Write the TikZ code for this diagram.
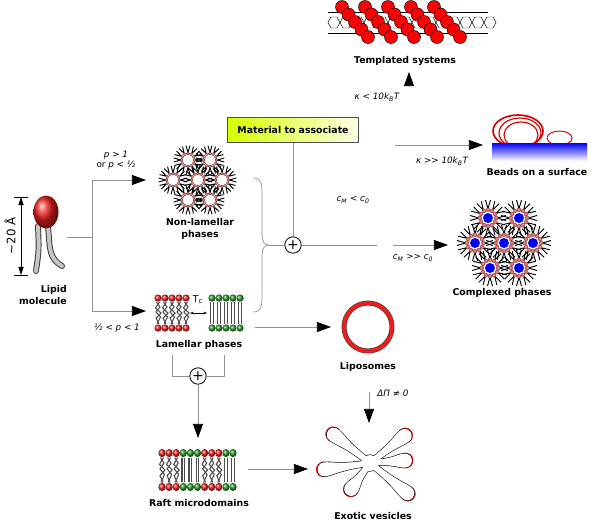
\documentclass[tikz,border=0pt]{standalone}
\usepackage{fontspec}
\setmainfont{DejaVu Sans}[ItalicFont={DejaVu Sans Oblique}, BoldFont={DejaVu Sans Bold}, BoldItalicFont={DejaVu Sans Bold Oblique}]
\usepackage{tikz}
\usetikzlibrary{arrows.meta}
\definecolor{lipred}{RGB}{235,30,30}
\definecolor{lipgreen}{RGB}{40,150,40}

\begin{document}
\begin{tikzpicture}
	[
	x=0.03cm, y=-0.03cm,
	line/.style={draw=gray!85, line width=0.6pt},
	arr/.style={line, -{Triangle[length=12pt,width=8.5pt,color=black]}},
	lbl/.style={font=\fontsize{8}{9.6}\selectfont\bfseries, align=center, inner sep=0pt},
	cond/.style={font=\fontsize{7.5}{9}\selectfont\itshape, align=center, inner sep=0pt},
	plus/.style={circle, draw, line width=0.7pt, minimum size=14pt, inner sep=0pt, font=\fontsize{12}{12}\selectfont},
	matbox/.style={draw=black!70, line width=0.4pt, left color=yellow!85!green, right color=yellow!10, minimum width=3.93cm, minimum height=0.75cm, font=\fontsize{8}{9.6}\selectfont\bfseries},
	head/.style={shading=ball, ball color=#1},
	pics/micelle/.style={code={
		\foreach \a in {0,30,...,330}
			\draw[line width=0.8pt] ({\a-8}:14.5) -- (\a:7.5) -- ({\a+8}:14.5);
		\fill[#1] (0,0) circle (4);
		\foreach \a in {0,30,...,330}
			\filldraw[fill=red!55, draw=black!80, line width=0.25pt] (\a:6.5) circle (1.6);
	}},
	pics/micelle/.default=white,
	pics/ordlip/.style 2 args={code={
		\draw[line width=1.1pt, black!70] (-1.3,-11) -- (-1.3,11) (1.3,-11) -- (1.3,11);
		\shade[head=#1] (0,-15) circle (3.6);
		\shade[head=#2] (0,15) circle (3.6);
	}},
	pics/fluidlip/.style 2 args={code={
		\draw[line width=0.9pt, black!70] (-1.5,-11) -- (2,-6) -- (-2,-1) -- (2.5,4) -- (-1,11);
		\draw[line width=0.9pt, black!70] (1.5,-11) -- (-2.5,-5) -- (3,0) -- (-2,5) -- (1,11);
		\shade[head=#1] (0,-15) circle (3.6);
		\shade[head=#2] (0,15) circle (3.6);
	}},
	]
		\useasboundingbox (0,0) rectangle (600,528);

		% lipid molecule
		\draw[line width=5pt, black!80, line cap=round] (38,226) .. controls (39,250) .. (36,271);
		\draw[line width=3.4pt, gray!45, line cap=round] (38,226) .. controls (39,250) .. (36,271);
		\draw[line width=5pt, black!80, line cap=round] (48,226) .. controls (50,250) and (49,258) .. (62,266);
		\draw[line width=3.4pt, gray!45, line cap=round] (48,226) .. controls (50,250) and (49,258) .. (62,266);
		\shade[ball color=lipred] (46,212) ellipse (12.5 and 16.5);
		\coordinate (dimT) at (21,197);
		\coordinate (dimB) at (21,275);
		\draw[line width=0.5pt] (14,197) -- (28,197) (14,275) -- (28,275);
		\draw[{Triangle[length=7pt,width=4.5pt]}-{Triangle[length=7pt,width=4.5pt]}, line width=0.5pt] (dimT) -- (dimB);
		\node[font=\fontsize{10}{12}\selectfont, rotate=90] (dim) at (10,236) {\textasciitilde 20 Å};
		\node[lbl, align=right, anchor=east] (lipT) at (67,295) {Lipid\\molecule};

		% non-lamellar phases
		\foreach \x/\y in {188/160,210/160,173/180,198/180,222/180,188/200,210/200}
			\pic at (\x,\y) {micelle};
		\node[lbl] (nlT) at (200,229) {Non-lamellar\\phases};
		\node[cond] (pA) at (116,160) {p > 1\\{\upshape or} p < ½};

		% lamellar phases
		\foreach \x in {158,165,...,186} \pic at (\x,313) {fluidlip={lipred}{lipred}};
		\foreach \x in {212,219,...,240} \pic at (\x,313) {ordlip={lipgreen}{lipgreen}};
		\node[font=\fontsize{8}{9}\selectfont] (tc) at (198,300) {T\textsubscript{c}};
		\coordinate (tcL) at (190,313);
		\coordinate (tcR) at (207,313);
		\draw[{Stealth[length=3pt]}-{Stealth[length=3pt]}, line width=0.5pt] (tcL) -- (tcR);
		\node[lbl] (lamT) at (199,345) {Lamellar phases};
		\node[cond] (pB) at (117,328) {½ < p < 1};

		% material to associate
		\node[matbox] (mat) at (293,130) {Material to associate};
		\node[plus] (plusM) at (293,245) {+};
		\node[cond] (cm1) at (353,200) {c\textsubscript{M} < c\textsubscript{0}};
		\node[cond] (cm2) at (413,258) {c\textsubscript{M} >{}> c\textsubscript{0}};

		% templated systems
		\draw[line width=0.4pt] (328,12) -- (488,12) (328,33) -- (488,33);
		\foreach \x in {334,346,...,490}
			\draw[line width=0.4pt] (\x-6,22.5) -- (\x-3,17) -- (\x+3,17) -- (\x+6,22.5) -- (\x+3,28) -- (\x-3,28) -- cycle;
		\foreach \k in {0,...,4}
			\foreach \j in {0,...,4}
				\filldraw[fill=red, draw=black, line width=0.4pt] ({342+23*\k+6.5*\j},{7+7.5*\j}) circle (6.5);
		\node[lbl] (tpT) at (405,61) {Templated systems};
		\node[cond] (k1) at (377,97) {κ < 10k\textsubscript{B}T};

		% beads on a surface
		\draw[red!85!black, line width=1.4pt] (518,131) ellipse (25 and 16);
		\draw[red!85!black, line width=1pt] (520,133) ellipse (21 and 15);
		\draw[red!85!black, line width=1pt] (521,135) ellipse (17 and 13);
		\draw[red!85!black, line width=0.8pt] (559.5,138) ellipse (12.5 and 7);
		\shade[top color=blue, bottom color=blue!5] (492,143) rectangle (587,160);
		\node[lbl] (bdT) at (537,172) {Beads on a surface};
		\node[cond] (k2) at (442,161) {κ >{}> 10k\textsubscript{B}T};

		% complexed phases
		\foreach \x/\y in {488/218,519/218,475/243,504/243,533/243,490/268,519/268}
			\pic[scale=1.25] at (\x,\y) {micelle=blue};
		\node[lbl] (cpT) at (502,293) {Complexed phases};

		% liposomes
		\draw[black!75, line width=4.2pt] (368,327) circle (24);
		\draw[lipred, line width=3.2pt] (368,327) circle (24);
		\node[lbl] (lpT) at (368,367) {Liposomes};

		% raft microdomains
		\foreach \i in {0,1,2,6,7,8} \pic[yscale=1.13] at ({162+7.1*\i},470) {fluidlip={lipred}{lipred}};
		\foreach \i in {3,4,5,9,10} \pic[yscale=1.13] at ({162+7.1*\i},470) {ordlip={lipgreen}{lipgreen}};
		\node[lbl] (rfT) at (199,503) {Raft microdomains};
		\node[plus] (plusL) at (198,376) {+};

		% exotic vesicles
		\begin{scope}[shift={(370,463)}]
			\foreach \ang/\len in {39/55,126/39,172/53,218/53,322/51,356/42}
				\draw[lipred, line width=2.6pt, rotate=-\ang] ({\len-8},-6.5) .. controls ({\len-3},-6.5) and (\len,-4) .. (\len,0) .. controls (\len,4) and ({\len-3},6.5) .. ({\len-8},6.5);
			\foreach \ang/\len in {39/55,126/39,172/53,218/53,322/51,356/42}
				\draw[line width=1pt, rotate=-\ang] (6,-3) .. controls ({0.6*\len},-3) and ({\len-15},-7) .. ({\len-7},-7) .. controls ({\len-3},-7) and (\len,-4) .. (\len,0) .. controls (\len,4) and ({\len-3},7) .. ({\len-7},7) .. controls ({\len-15},7) and ({0.6*\len},3) .. (6,3) -- cycle;
			\draw[line width=1pt] (0,0) circle (8);
			\foreach \ang/\len in {39/55,126/39,172/53,218/53,322/51,356/42}
				\fill[white, rotate=-\ang] (6,-3) .. controls ({0.6*\len},-3) and ({\len-15},-7) .. ({\len-7},-7) .. controls ({\len-3},-7) and (\len,-4) .. (\len,0) .. controls (\len,4) and ({\len-3},7) .. ({\len-7},7) .. controls ({\len-15},7) and ({0.6*\len},3) .. (6,3) -- cycle;
			\fill[white] (0,0) circle (8);
		\end{scope}
		\node[lbl] (exT) at (373,516) {Exotic vesicles};
		\node[cond] (dp) at (393,393) {ΔΠ ≠ 0};

		% junctions and arrow ends
		\coordinate (lipR) at (67,237);
		\coordinate (split) at (92,237);
		\coordinate (splitT) at (92,180);
		\coordinate (splitB) at (92,311);
		\coordinate (nlIn) at (146,180);
		\coordinate (lamIn) at (146,311);
		\coordinate (brT) at (253,178);
		\coordinate (brtip) at (269,245);
		\coordinate (brB) at (253,312);
		\coordinate (cmA) at (377,245);
		\coordinate (cmB) at (393,245);
		\coordinate (cpIn) at (448,245);
		\coordinate (bdOut) at (395,145);
		\coordinate (bdIn) at (483,145);
		\coordinate (tpOut) at (409,86);
		\coordinate (tpIn) at (409,72);
		\coordinate (lamOut) at (255,327);
		\coordinate (lpIn) at (331,327);
		\coordinate (lamL) at (172,355);
		\coordinate (lamR) at (224,355);
		\coordinate (rfIn) at (198,438);
		\coordinate (rfOut) at (248,469);
		\coordinate (exIn) at (308,469);
		\coordinate (dpOut) at (369,392);
		\coordinate (dpIn) at (369,423);

		\draw[line] (brT) .. controls (261,178) and (262,183) .. (262,194) -- (262,235) .. controls (262,242) and (265,245) .. (brtip) .. controls (265,245) and (262,248) .. (262,255) -- (262,296) .. controls (262,307) and (261,312) .. (brB);
		\draw[line] (lamL) |- (plusL);
		\draw[line] (lamR) |- (plusL);

		\foreach \from/\to in {lipR/split,splitT/splitB,brtip/plusM,mat/plusM,plusM/cmA} \draw[line] (\from) -- (\to);
		\foreach \from/\to in {splitT/nlIn,splitB/lamIn,cmB/cpIn,bdOut/bdIn,tpOut/tpIn,lamOut/lpIn,plusL/rfIn,rfOut/exIn,dpOut/dpIn} \draw[arr] (\from) -- (\to);

	\end{tikzpicture}
\end{document}
